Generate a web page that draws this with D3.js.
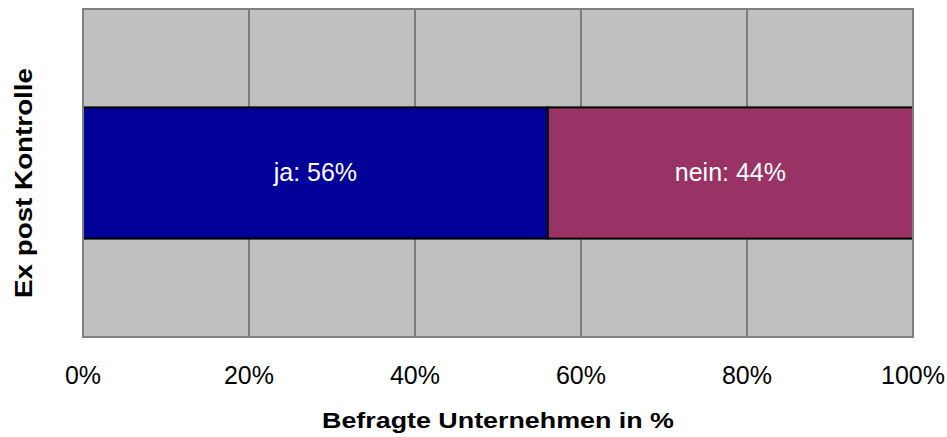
<!DOCTYPE html>
<html>
<head>
<meta charset="utf-8">
<script src="https://cdn.jsdelivr.net/npm/d3@7"></script>
<style>
  body { margin: 0; background: #fff; }
  svg { display: block; font-family: "Liberation Sans", Arial, sans-serif; }
</style>
</head>
<body>
<div class="js-chart"></div>
<script>
// data
const categories = ["Ex post Kontrolle"];
const seriesNames = ["ja", "nein"];
const seriesValues = [56, 44];
const seriesColors = ["#000099", "#993366"];
const tickValues = [0, 20, 40, 60, 80, 100];

const width = 947
    , height = 437
    , margin = {top: 9, right: 34, bottom: 100, left: 83}
    ;

const svg = d3.select(".js-chart")
  .append("svg")
  .attr("width", width)
  .attr("height", height);

const x = d3.scaleLinear()
  .domain([0, 100])
  .range([margin.left, width - margin.right]);

const y = d3.scaleBand()
  .domain(categories)
  .range([margin.top, height - margin.bottom])
  .paddingInner(0)
  .paddingOuter(0.75);

// plot background
svg.append("rect")
  .attr("x", x(0))
  .attr("y", margin.top)
  .attr("width", x(100) - x(0))
  .attr("height", height - margin.bottom - margin.top)
  .attr("fill", "#c0c0c0");

// vertical grid
svg.append("g")
  .selectAll("line")
  .data(tickValues.slice(1, -1))
  .join("line")
    .attr("x1", d => x(d))
    .attr("x2", d => x(d))
    .attr("y1", margin.top)
    .attr("y2", height - margin.bottom)
    .attr("stroke", "#666")
    .attr("stroke-width", 1.5);

// stacked segments
let acc = 0;
const segments = seriesValues.map((v, i) => {
  const s = {name: seriesNames[i], value: v, x0: acc, x1: acc + v, color: seriesColors[i]};
  acc += v;
  return s;
});

const seg = svg.append("g")
  .selectAll("g")
  .data(segments)
  .join("g");

seg.append("rect")
  .attr("x", d => x(d.x0))
  .attr("y", y(categories[0]))
  .attr("width", d => x(d.x1) - x(d.x0))
  .attr("height", y.bandwidth())
  .attr("fill", d => d.color)
  .attr("stroke", "#000")
  .attr("stroke-width", 2);

seg.append("text")
  .attr("x", d => (x(d.x0) + x(d.x1)) / 2)
  .attr("y", y(categories[0]) + y.bandwidth() / 2 + 8)
  .attr("text-anchor", "middle")
  .attr("fill", "#fff")
  .style("font-size", "25px")
  .text(d => `${d.name}: ${d.value}%`);

// plot border
svg.append("rect")
  .attr("x", x(0))
  .attr("y", margin.top)
  .attr("width", x(100) - x(0))
  .attr("height", height - margin.bottom - margin.top)
  .attr("fill", "none")
  .attr("stroke", "#808080")
  .attr("stroke-width", 2);

// x axis labels
svg.append("g")
  .selectAll("text")
  .data(tickValues)
  .join("text")
    .attr("x", d => x(d))
    .attr("y", 384)
    .attr("text-anchor", "middle")
    .style("font-size", "25px")
    .text(d => d + "%");

// axis titles
svg.append("text")
  .attr("x", (x(0) + x(100)) / 2)
  .attr("y", 428)
  .attr("text-anchor", "middle")
  .attr("textLength", 352)
  .attr("lengthAdjust", "spacingAndGlyphs")
  .style("font-size", "22px")
  .style("font-weight", "bold")
  .text("Befragte Unternehmen in %");

svg.append("text")
  .attr("transform", `translate(32, ${(margin.top + height - margin.bottom) / 2 + 10}) rotate(-90)`)
  .attr("text-anchor", "middle")
  .attr("textLength", 230)
  .attr("lengthAdjust", "spacingAndGlyphs")
  .style("font-size", "23px")
  .style("font-weight", "bold")
  .text(categories[0]);
</script>
</body>
</html>
